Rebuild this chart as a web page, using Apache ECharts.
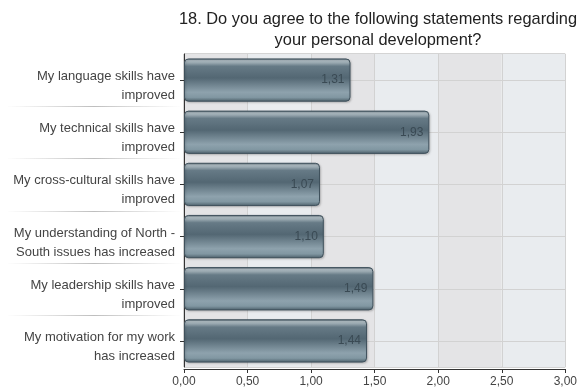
<!DOCTYPE html>
<html>
<head>
<meta charset="utf-8">
<script src="https://cdn.jsdelivr.net/npm/echarts@6/dist/echarts.min.js"></script>
<style>
  html, body { margin: 0; padding: 0; background: #ffffff; }
  #chart { width: 580px; height: 392px; }
</style>
</head>
<body>
<div id="chart"></div>
<script>
// Survey item 18: mean agreement per statement
const titleText = '18. Do you agree to the following statements regarding\nyour personal development?';
const categories = [
  'My language skills have\nimproved',
  'My technical skills have\nimproved',
  'My cross-cultural skills have\nimproved',
  'My understanding of North -\nSouth issues has increased',
  'My leadership skills have\nimproved',
  'My motivation for my work\nhas increased'
];
const meanScores = [1.31, 1.93, 1.07, 1.10, 1.49, 1.44];
const xTicks = [0, 0.5, 1, 1.5, 2, 2.5, 3];

const FONT = '"Liberation Sans", Arial, Helvetica, sans-serif';
const fmt = v => v.toFixed(2).replace('.', ',');

const chart = echarts.init(document.getElementById('chart'), null, { renderer: 'canvas' });

const barFill = new echarts.graphic.LinearGradient(0, 0, 0, 1, [
  { offset: 0.00, color: '#4b5e69' },
  { offset: 0.05, color: '#aebbc2' },
  { offset: 0.10, color: '#9aa9b1' },
  { offset: 0.18, color: '#667a86' },
  { offset: 0.45, color: '#536773' },
  { offset: 0.78, color: '#8ea2ad' },
  { offset: 0.90, color: '#8197a2' },
  { offset: 1.00, color: '#4b5e69' }
]);

chart.setOption({
  animation: false,
  textStyle: { fontFamily: FONT },
  title: {
    text: titleText,
    left: 373,
    top: 4,
    textAlign: 'center',
    textStyle: { fontFamily: FONT, fontSize: 16.4, fontWeight: 'normal', color: '#222', lineHeight: 21, align: 'center' }
  },
  grid: {
    left: 184, right: 13, top: 54, bottom: 25,
    show: true, borderColor: '#a8a8a8', borderWidth: 1, backgroundColor: 'transparent',
    containLabel: false
  },
  xAxis: {
    type: 'value',
    min: xTicks[0],
    max: xTicks[xTicks.length - 1],
    interval: 0.5,
    offset: 2,
    axisLine: { show: true, lineStyle: { color: '#333', width: 1 } },
    axisTick: { show: true, length: 4, lineStyle: { color: '#333' } },
    axisLabel: { formatter: fmt, color: '#444', fontSize: 12, fontFamily: FONT, margin: 7 },
    splitLine: { show: true, lineStyle: { color: '#d2d2d2', width: 1 } },
    splitArea: { show: true, areaStyle: { color: ['#e4e4e6', '#e9ecef'] } }
  },
  yAxis: {
    type: 'category',
    data: categories,
    inverse: true,
    axisLine: { show: true, lineStyle: { color: '#333', width: 1 } },
    axisTick: { show: true, alignWithLabel: true, length: 4, lineStyle: { color: '#333' } },
    axisLabel: {
      margin: 9,
      align: 'right',
      // a short spacer line above the two text lines drops the block slightly below the tick
      formatter: v => '{s| }\n' + v.split('\n').map(t => '{t|' + t + '}').join('\n'),
      rich: {
        s: { fontSize: 1, lineHeight: 12 },
        t: { color: '#444', fontSize: 13, fontFamily: FONT, lineHeight: 19, align: 'right' }
      }
    },
    splitLine: { show: false }
  },
  series: [{
    type: 'bar',
    data: meanScores,
    barCategoryGap: '17%',
    z: 3,
    itemStyle: {
      color: barFill,
      borderColor: '#3f515c',
      borderWidth: 1,
      borderRadius: 4,
      shadowColor: 'rgba(0,0,0,0.18)',
      shadowBlur: 2,
      shadowOffsetX: 1,
      shadowOffsetY: 1
    },
    label: {
      show: true,
      position: 'insideRight',
      distance: 6,
      formatter: p => fmt(p.value),
      color: '#3a4a54',
      fontSize: 12,
      fontFamily: FONT
    },
    // grid lines through each category centre, kept behind the bars
    markLine: {
      silent: true,
      z: 1,
      symbol: 'none',
      label: { show: false },
      lineStyle: { type: 'solid', color: '#d2d2d2', width: 1 },
      emphasis: { disabled: true },
      data: categories.map(c => ({ yAxis: c }))
    }
  }]
});

// Faded separators between category labels, placed at band boundaries from the axis scale
function drawSeparators() {
  const lines = [];
  for (let i = 0; i < categories.length - 1; i++) {
    const a = chart.convertToPixel({ yAxisIndex: 0 }, i);
    const b = chart.convertToPixel({ yAxisIndex: 0 }, i + 1);
    const y = Math.round((a + b) / 2) + 0.5;
    const x1 = 8;
    const x2 = chart.convertToPixel({ xAxisIndex: 0 }, 0) - 4;
    lines.push({
      type: 'line',
      silent: true,
      shape: { x1: x1, y1: y, x2: x2, y2: y },
      style: {
        lineWidth: 1,
        stroke: new echarts.graphic.LinearGradient(0, 0, 1, 0, [
          { offset: 0, color: 'rgba(200,200,200,0)' },
          { offset: 0.5, color: 'rgba(190,190,190,1)' },
          { offset: 1, color: 'rgba(200,200,200,0)' }
        ])
      }
    });
  }
  chart.setOption({ graphic: lines });
}
drawSeparators();
</script>
</body>
</html>
